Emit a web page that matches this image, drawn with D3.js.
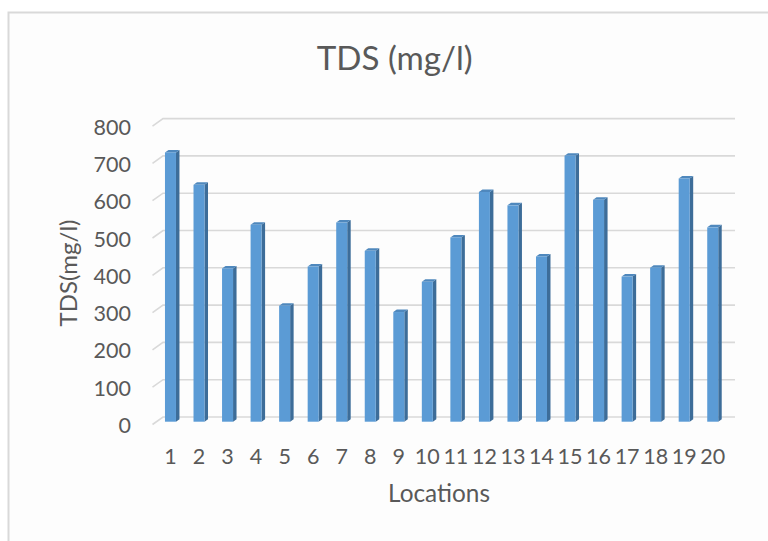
<!DOCTYPE html>
<html>
<head>
<meta charset="utf-8">
<script src="https://cdn.jsdelivr.net/npm/d3@7"></script>
<style>
  html, body { margin: 0; padding: 0; background: #ffffff; }
  svg { display: block; }
  text { font-family: Lato, "Open Sans", sans-serif; fill: #595959; }
</style>
</head>
<body>
<svg id="chart" width="768" height="541"></svg>
<script>
// ---- data ----
const locations = ["1","2","3","4","5","6","7","8","9","10","11","12","13","14","15","16","17","18","19","20"];
const tdsValues = [722, 635, 411, 528, 311, 416, 534, 458, 294, 375, 494, 616, 580, 443, 713, 595, 389, 413, 652, 521];
const yTicks = [0, 100, 200, 300, 400, 500, 600, 700, 800];
const chartTitle = "TDS (mg/l)";
const xTitle = "Locations";
const yTitle = "TDS(mg/l)";

// ---- layout ----
const W = 768, H = 541;
const svg = d3.select("#chart");

// chart area frame
svg.append("rect")
  .attr("x", 8.5).attr("y", 12.5).attr("width", 800).attr("height", 600)
  .attr("fill", "#fdfdfd").attr("stroke", "#d9d9d9").attr("stroke-width", 2);

// scales (back wall)
const x = d3.scaleBand().domain(locations).range([156.2, 727]).padding(0);
const y = d3.scaleLinear().domain([0, 800]).range([417, 118.6]);

// 3D depth offsets
const depthDX = -10.5, depthDY = 7.5;   // back wall -> front edge of floor
const barFrontDY = 4.7;                 // bar front plane offset from back wall
const barW = 11, sideDX = 3.5, sideDY = -2.5;
const wallLeft = 163, wallRight = 735;

// gridlines on the back wall + side wall diagonals
const grid = svg.append("g").attr("stroke", "#d9d9d9").attr("stroke-width", 1.6).attr("fill", "none");
yTicks.forEach(t => {
  const yy = y(t);
  grid.append("path")
    .attr("d", `M${wallLeft + depthDX},${yy + depthDY}L${wallLeft},${yy}L${wallRight},${yy}`);
});

// y tick labels
svg.append("g").selectAll("text").data(yTicks).join("text")
  .attr("x", 131)
  .attr("y", d => y(d) + depthDY + 0.5)
  .attr("text-anchor", "end")
  .attr("dominant-baseline", "central")
  .style("font-size", "21.5px")
  .text(d => d);

// bars
const bars = svg.append("g");
locations.forEach((loc, i) => {
  const v = tdsValues[i];
  const cx = x(loc) + x.bandwidth() / 2;
  const x0 = cx - barW / 2, x1 = cx + barW / 2;
  const yb = y(0) + barFrontDY;
  const yt = y(v) + barFrontDY;
  const g = bars.append("g");
  // side face
  g.append("path")
    .attr("d", `M${x1},${yt}L${x1 + sideDX},${yt + sideDY}L${x1 + sideDX},${yb + sideDY}L${x1},${yb}Z`)
    .attr("fill", "#3d6d99");
  // top face
  g.append("path")
    .attr("d", `M${x0},${yt}L${x0 + sideDX},${yt + sideDY}L${x1 + sideDX},${yt + sideDY}L${x1},${yt}Z`)
    .attr("fill", "#4f88bd");
  // front face
  g.append("rect")
    .attr("x", x0).attr("y", yt).attr("width", barW).attr("height", yb - yt)
    .attr("fill", "#5b9bd5");
});

// x tick labels
svg.append("g").selectAll("text").data(locations).join("text")
  .attr("x", d => x(d) + x.bandwidth() / 2)
  .attr("y", 463.5)
  .attr("text-anchor", "middle")
  .style("font-size", "21.5px")
  .text(d => d);

function fit(sel, target) {
  sel.style("font-size", "100px");
  const w = sel.node().getComputedTextLength();
  sel.style("font-size", (100 * target / w) + "px");
}

// title
const title = svg.append("text")
  .attr("x", 394.7).attr("y", 69.5)
  .attr("text-anchor", "middle")
  .text(chartTitle);
fit(title, 156);

// x axis title
const xt = svg.append("text")
  .attr("x", 439).attr("y", 501.7)
  .attr("text-anchor", "middle")
  .text(xTitle);
fit(xt, 102);

// y axis title
const yt = svg.append("text")
  .attr("transform", "translate(77,273) rotate(-90)")
  .attr("text-anchor", "middle")
  .text(yTitle);
fit(yt, 107);
</script>
</body>
</html>
